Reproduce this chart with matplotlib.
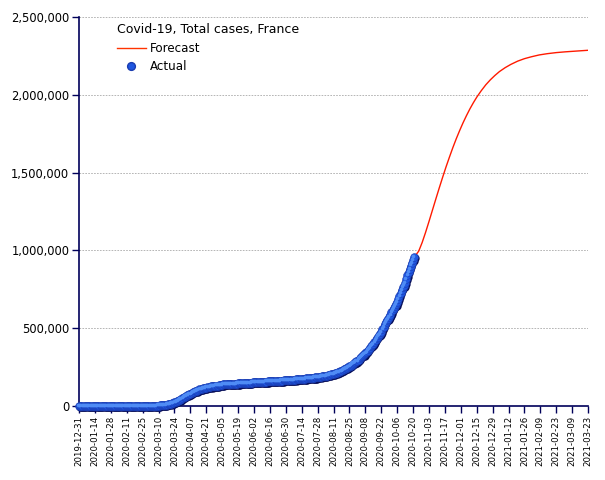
import numpy as np
import pandas as pd
import matplotlib
matplotlib.use("Agg")
from matplotlib import pyplot as plt
from matplotlib.lines import Line2D
from matplotlib.ticker import FuncFormatter
import matplotlib.transforms as mtransforms

# actual cumulative cases (thousands), one value per day from 2019-12-31
actual_start = "2019-12-31"
actual_dec_jan = [0] * 25 + [0.003, 0.003, 0.003, 0.004, 0.005, 0.005, 0.006]
actual_feb = [0.006, 0.006, 0.006, 0.006, 0.006, 0.006, 0.006, 0.011, 0.011, 0.011,
              0.011, 0.011, 0.011, 0.011, 0.012, 0.012, 0.012, 0.012, 0.012, 0.012,
              0.012, 0.012, 0.012, 0.012, 0.014, 0.018, 0.038, 0.057, 0.1]
actual_mar = [0.13, 0.19, 0.21, 0.29, 0.42, 0.61, 0.95, 1.13, 1.41, 1.78,
              2.28, 2.88, 3.66, 4.5, 5.42, 6.63, 7.73, 9.13, 11.0, 12.6,
              14.5, 16.0, 19.9, 22.3, 25.2, 29.2, 33.0, 37.6, 40.2, 44.6, 52.1]
actual_apr = [57.0, 59.1, 64.3, 68.6, 70.5, 74.4, 78.2, 82.0, 86.3, 90.3,
              93.8, 95.4, 98.1, 103.6, 106.2, 108.8, 109.3, 111.8, 112.6, 114.7,
              117.3, 119.2, 120.8, 122.6, 124.1, 124.6, 126.8, 128.3, 129.9, 130.0]
actual_may = [130.2, 131.0, 131.3, 131.9, 133.0, 137.2, 137.8, 138.4, 138.9, 139.1,
              139.5, 140.2, 140.7, 141.4, 141.9, 142.3, 142.4, 142.9, 143.4, 143.8,
              144.2, 144.6, 144.9, 145.3, 145.6, 145.9, 146.4, 147.1, 148.0, 148.9, 149.7]
actual_jun = [150.5, 151.0, 151.3, 151.8, 152.4, 153.0, 153.4, 153.7, 154.2, 154.8,
              155.1, 155.6, 155.9, 156.3, 156.8, 157.2, 157.7, 158.2, 158.6, 159.0,
              159.3, 159.8, 160.4, 161.0, 161.5, 162.0, 162.5, 162.9, 163.4, 164.3]
actual_jul = [164.8, 165.7, 166.4, 166.9, 167.3, 167.8, 168.3, 169.0, 169.5, 170.1,
              170.8, 171.4, 172.0, 172.4, 173.3, 173.8, 174.7, 175.5, 176.4, 176.8,
              177.3, 178.3, 179.4, 180.5, 181.4, 182.1, 182.6, 183.7, 185.2, 186.6, 187.9]
actual_aug = [189.3, 191.0, 191.8, 193.0, 194.5, 196.4, 198.2, 200.5, 202.6, 203.9,
              205.6, 208.0, 210.6, 213.4, 216.4, 219.2, 222.0, 225.5, 229.5, 234.0,
              238.5, 242.3, 245.5, 249.0, 254.0, 259.0, 265.5, 271.5, 277.5, 281.5, 285.0]
actual_sep = [290.5, 297.5, 304.5, 312.0, 319.5, 325.5, 330.0, 337.0, 345.5, 355.0,
              364.0, 374.0, 383.0, 390.0, 399.0, 410.0, 422.0, 434.0, 445.0, 454.0,
              462.0, 476.0, 492.0, 508.0, 524.0, 538.0, 550.0, 558.0, 571.0, 586.0]
actual_oct = [600.0, 615.0, 630.0, 643.0, 652.0, 668.0, 686.0, 705.0, 725.0, 744.0,
              761.0, 773.0, 792.0, 815.0, 838.0, 860.0, 882.0, 902.0, 917.0, 935.0, 957.0]

# forecast (thousands)
forecast_dates = ["2020-10-21", "2020-10-23", "2020-10-25", "2020-10-28", "2020-10-31",
                  "2020-11-03", "2020-11-06", "2020-11-09", "2020-11-12", "2020-11-15",
                  "2020-11-18", "2020-11-21", "2020-11-24", "2020-11-27", "2020-11-30",
                  "2020-12-03", "2020-12-06", "2020-12-09", "2020-12-12", "2020-12-15",
                  "2020-12-19", "2020-12-23", "2020-12-27", "2020-12-31", "2021-01-04",
                  "2021-01-09", "2021-01-14", "2021-01-20", "2021-01-26", "2021-02-01",
                  "2021-02-08", "2021-02-15", "2021-02-23", "2021-03-03", "2021-03-11",
                  "2021-03-23"]
forecast_values = [957, 975, 995, 1050, 1115,
                   1185, 1257, 1329, 1400, 1469,
                   1536, 1599, 1660, 1717, 1770,
                   1820, 1866, 1909, 1948, 1984,
                   2026, 2064, 2096, 2124, 2149,
                   2174, 2195, 2216, 2232, 2244,
                   2256, 2264, 2271, 2276, 2280,
                   2286]

axis_start = "2019-12-31"
axis_end = "2021-03-23"

actual = np.array(actual_dec_jan + actual_feb + actual_mar + actual_apr + actual_may +
                  actual_jun + actual_jul + actual_aug + actual_sep + actual_oct) * 1000
actual_dates = pd.date_range(actual_start, periods=len(actual), freq="D")
fc_dates = pd.to_datetime(forecast_dates)
fc_values = np.array(forecast_values) * 1000

navy = "#00005a"

fig = plt.figure(figsize=(6.05, 4.8), dpi=100)
ax = fig.add_axes([0.1306, 0.1546, 0.8414, 0.81])

ax.plot(fc_dates, fc_values, color="#ff1a00", lw=1.0, zorder=2)

# sphere look: dark shadow, blue body, light highlight
shadow = mtransforms.offset_copy(ax.transData, fig=fig, x=0.4, y=-0.8, units="points")
hilite = mtransforms.offset_copy(ax.transData, fig=fig, x=-0.6, y=0.8, units="points")
ax.plot(actual_dates, actual, "o", ms=6, color="#08105a", mew=0, transform=shadow,
        zorder=3, clip_on=False)
ax.plot(actual_dates, actual, "o", ms=5.6, color="#1f56e0", mec="#1a3cb0", mew=0.4,
        zorder=4, clip_on=False)
ax.plot(actual_dates, actual, "o", ms=2.6, color="#4f8cf5", mew=0, transform=hilite,
        zorder=5, clip_on=False)

ax.set_xlim(pd.Timestamp(axis_start), pd.Timestamp(axis_end))
ax.set_ylim(0, 2500000)

ticks = pd.date_range(axis_start, axis_end, freq="14D")
ax.set_xticks(ticks)
ax.set_xticklabels([t.strftime("%Y-%m-%d") for t in ticks], rotation=90, fontsize=6.2)
ax.set_yticks(np.arange(0, 2500001, 500000))
ax.yaxis.set_major_formatter(FuncFormatter(lambda v, p: f"{int(v):,}"))
ax.tick_params(axis="y", labelsize=8.3, length=5, color=navy, width=1, pad=2)
ax.tick_params(axis="x", length=5, color=navy, width=1, pad=2)

for s in ["top", "right"]:
    ax.spines[s].set_visible(False)
for s in ["left", "bottom"]:
    ax.spines[s].set_color(navy)
    ax.spines[s].set_linewidth(1.2)

ax.yaxis.grid(True, color="#aaaaaa", ls=(0, (2, 1.5)), lw=0.6)
ax.set_axisbelow(True)

handles = [Line2D([], [], color="#ff3300", lw=1.0),
           Line2D([], [], marker="o", ls="", ms=5.6, color="#1f56e0", mec="#1a3cb0")]
leg = ax.legend(handles, ["Forecast", "Actual"], title="Covid-19, Total cases, France",
                loc="upper left", bbox_to_anchor=(0.055, 1.008), frameon=False,
                fontsize=8.6, title_fontsize=9, handlelength=2.5, handletextpad=0.3,
                labelspacing=0.45, borderpad=0.3)
leg._legend_box.align = "left"

fig.savefig("out.png", dpi=100)
